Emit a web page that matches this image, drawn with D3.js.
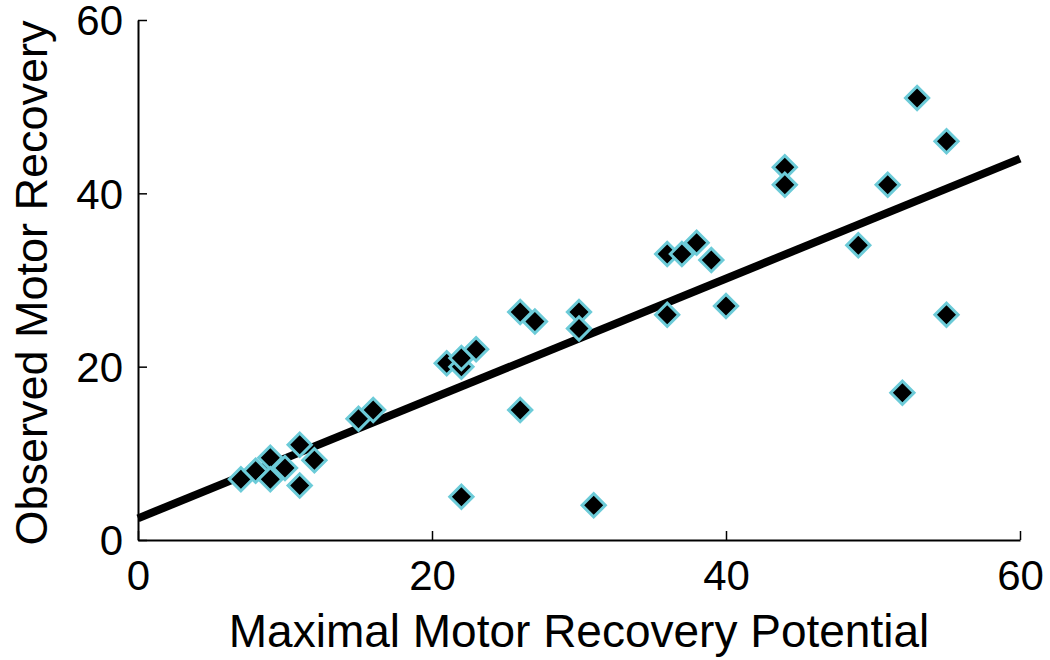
<!DOCTYPE html>
<html><head><meta charset="utf-8">
<script src="https://cdn.jsdelivr.net/npm/d3@7"></script>
<style>body{margin:0;background:#fff}svg{display:block}text{font-family:"Liberation Sans",Arial,sans-serif;fill:#000}</style>
</head><body><svg id="c" width="1050" height="660"></svg>
<script>
const xPotential = [7,8,9,9,10,11,11,12,15,16,21,22,22,23,22,26,26,27,30,30,31,36,36,37,38,39,40,44,44,49,51,53,55,55,52];
const yObserved  = [7,8,9.5,7,8.3,11,6.3,9.2,14,15,20.4,20,21,22,5,26.3,15,25.2,26.3,24.4,4,33,26,33,34.3,32.3,27,43,41,34,41,51,46,26,17];
const fitLine = {x:[0,60], y:[2.5,44]};
const xTicks = [0,20,40,60];
const yTicks = [0,20,40,60];

const svg = d3.select("#c");
const x = d3.scaleLinear().domain([0,60]).range([138,1020]);
const y = d3.scaleLinear().domain([0,60]).range([540,20]);

// axes
const xAxis = d3.axisBottom(x).tickValues(xTicks).tickSizeInner(-9).tickSizeOuter(0).tickPadding(12);
const yAxis = d3.axisLeft(y).tickValues(yTicks).tickSizeInner(-9).tickSizeOuter(0).tickPadding(15);
const gx = svg.append("g").attr("transform","translate(0,540)").call(xAxis);
const gy = svg.append("g").attr("transform","translate(138,0)").call(yAxis);
[gx,gy].forEach(g=>{
  g.select(".domain").attr("stroke","#000").attr("stroke-width",2);
  g.selectAll(".tick line").attr("stroke","#000").attr("stroke-width",1.5);
  g.selectAll(".tick text").style("font-size","42px").attr("fill","#000");
});
gx.selectAll(".tick text").attr("dy","0.9em");
gy.selectAll(".tick text").attr("dy","0.35em");

// fit line
svg.append("line")
  .attr("x1",x(fitLine.x[0])).attr("y1",y(fitLine.y[0]))
  .attr("x2",x(fitLine.x[1])).attr("y2",y(fitLine.y[1]))
  .attr("stroke","#000").attr("stroke-width",8);

// points
const sym = d3.symbol().type(d3.symbolSquare).size(270);
svg.append("g").selectAll("path").data(xPotential.map((v,i)=>[v,yObserved[i]]))
  .join("path")
  .attr("d",sym)
  .attr("transform",d=>`translate(${x(d[0])},${y(d[1])}) rotate(45)`)
  .attr("fill","#000").attr("stroke","#6ccbd8").attr("stroke-width",3);

// labels
svg.append("text").attr("x",579).attr("y",647).attr("text-anchor","middle")
  .style("font-size","46px").text("Maximal Motor Recovery Potential");
svg.append("text").attr("transform","translate(47,283) rotate(-90)").attr("text-anchor","middle")
  .style("font-size","45px").text("Observed Motor Recovery");
</script></body></html>
